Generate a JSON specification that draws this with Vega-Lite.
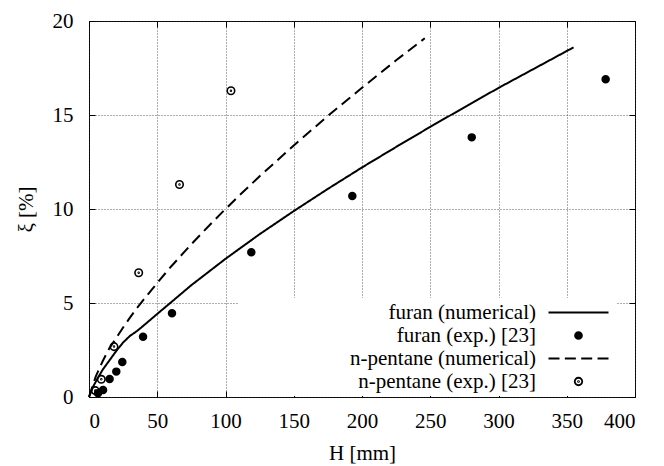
{
  "$schema": "https://vega.github.io/schema/vega-lite/v6.json",
  "width": 546,
  "height": 376,
  "autosize": {"type": "none"},
  "padding": {"left": 89, "top": 21, "right": 29, "bottom": 69},
  "background": "white",
  "config": {
    "font": "Liberation Serif",
    "view": {"stroke": "black", "strokeWidth": 1},
    "axis": {
      "domain": false,
      "labelFont": "Liberation Serif",
      "labelFontSize": 21,
      "labelColor": "black",
      "titleFont": "Liberation Serif",
      "titleFontSize": 21,
      "titleFontWeight": "normal",
      "titleColor": "black",
      "tickColor": "black",
      "tickSize": -6,
      "tickWidth": 1,
      "gridColor": "#333333",
      "gridDash": [1, 2],
      "gridWidth": 0.8,
      "gridOpacity": 1
    },
    "legend": {
      "labelFont": "Liberation Serif",
      "labelFontSize": 21,
      "labelColor": "black"
    }
  },
  "data": {
    "values": [
      {"series": "furan (numerical)", "H": 0, "xi": 0},
      {"series": "furan (numerical)", "H": 3, "xi": 0.55},
      {"series": "furan (numerical)", "H": 6, "xi": 0.95},
      {"series": "furan (numerical)", "H": 10, "xi": 1.45},
      {"series": "furan (numerical)", "H": 15, "xi": 1.95},
      {"series": "furan (numerical)", "H": 20, "xi": 2.45},
      {"series": "furan (numerical)", "H": 25, "xi": 2.9},
      {"series": "furan (numerical)", "H": 30, "xi": 3.25},
      {"series": "furan (numerical)", "H": 35, "xi": 3.5},
      {"series": "furan (numerical)", "H": 40, "xi": 3.8},
      {"series": "furan (numerical)", "H": 50, "xi": 4.42},
      {"series": "furan (numerical)", "H": 60, "xi": 5.03},
      {"series": "furan (numerical)", "H": 75, "xi": 5.95},
      {"series": "furan (numerical)", "H": 100, "xi": 7.35},
      {"series": "furan (numerical)", "H": 125, "xi": 8.66},
      {"series": "furan (numerical)", "H": 150, "xi": 9.89},
      {"series": "furan (numerical)", "H": 175, "xi": 11.07},
      {"series": "furan (numerical)", "H": 200, "xi": 12.21},
      {"series": "furan (numerical)", "H": 225, "xi": 13.3},
      {"series": "furan (numerical)", "H": 250, "xi": 14.37},
      {"series": "furan (numerical)", "H": 275, "xi": 15.41},
      {"series": "furan (numerical)", "H": 300, "xi": 16.44},
      {"series": "furan (numerical)", "H": 325, "xi": 17.42},
      {"series": "furan (numerical)", "H": 355, "xi": 18.6},
      {"series": "n-pentane (numerical)", "H": 0, "xi": 0},
      {"series": "n-pentane (numerical)", "H": 2, "xi": 0.45},
      {"series": "n-pentane (numerical)", "H": 5, "xi": 1.1},
      {"series": "n-pentane (numerical)", "H": 10, "xi": 1.9},
      {"series": "n-pentane (numerical)", "H": 15, "xi": 2.6},
      {"series": "n-pentane (numerical)", "H": 20, "xi": 3.15},
      {"series": "n-pentane (numerical)", "H": 25, "xi": 3.7},
      {"series": "n-pentane (numerical)", "H": 30, "xi": 4.22},
      {"series": "n-pentane (numerical)", "H": 35, "xi": 4.72},
      {"series": "n-pentane (numerical)", "H": 40, "xi": 5.18},
      {"series": "n-pentane (numerical)", "H": 50, "xi": 6.07},
      {"series": "n-pentane (numerical)", "H": 60, "xi": 6.93},
      {"series": "n-pentane (numerical)", "H": 75, "xi": 8.13},
      {"series": "n-pentane (numerical)", "H": 90, "xi": 9.27},
      {"series": "n-pentane (numerical)", "H": 100, "xi": 10.0},
      {"series": "n-pentane (numerical)", "H": 110, "xi": 10.71},
      {"series": "n-pentane (numerical)", "H": 125, "xi": 11.74},
      {"series": "n-pentane (numerical)", "H": 150, "xi": 13.38},
      {"series": "n-pentane (numerical)", "H": 175, "xi": 14.95},
      {"series": "n-pentane (numerical)", "H": 200, "xi": 16.45},
      {"series": "n-pentane (numerical)", "H": 225, "xi": 17.91},
      {"series": "n-pentane (numerical)", "H": 246, "xi": 19.08},
      {"series": "furan (exp.) [23]", "H": 6.6, "xi": 0.2},
      {"series": "furan (exp.) [23]", "H": 10.3, "xi": 0.37},
      {"series": "furan (exp.) [23]", "H": 15.1, "xi": 0.96},
      {"series": "furan (exp.) [23]", "H": 20, "xi": 1.35},
      {"series": "furan (exp.) [23]", "H": 24.4, "xi": 1.86},
      {"series": "furan (exp.) [23]", "H": 39.6, "xi": 3.21},
      {"series": "furan (exp.) [23]", "H": 60.8, "xi": 4.45},
      {"series": "furan (exp.) [23]", "H": 118.9, "xi": 7.7},
      {"series": "furan (exp.) [23]", "H": 192.9, "xi": 10.69},
      {"series": "furan (exp.) [23]", "H": 280.4, "xi": 13.81},
      {"series": "furan (exp.) [23]", "H": 378.5, "xi": 16.9},
      {"series": "n-pentane (exp.) [23]", "H": 4.6, "xi": 0.34},
      {"series": "n-pentane (exp.) [23]", "H": 9.0, "xi": 0.94},
      {"series": "n-pentane (exp.) [23]", "H": 18.3, "xi": 2.68},
      {"series": "n-pentane (exp.) [23]", "H": 36.4, "xi": 6.61},
      {"series": "n-pentane (exp.) [23]", "H": 66.3, "xi": 11.3},
      {"series": "n-pentane (exp.) [23]", "H": 104, "xi": 16.29}
    ]
  },
  "resolve": {"axis": {"x": "independent", "y": "independent"}},
  "layer": [
    {
      "transform": [{"filter": {"field": "series", "oneOf": ["furan (numerical)", "n-pentane (numerical)"]}}],
      "mark": {"type": "line", "color": "black", "strokeWidth": 2},
      "encoding": {
        "x": {"field": "H", "type": "quantitative", "scale": {"domain": [0, 400], "nice": false},
          "axis": {"orient": "bottom", "values": [0, 50, 100, 150, 200, 250, 300, 350, 400], "title": "H [mm]", "labelPadding": 19, "titlePadding": 11, "grid": true}},
        "y": {"field": "xi", "type": "quantitative", "scale": {"domain": [0, 20], "nice": false},
          "axis": {"orient": "left", "values": [0, 5, 10, 15, 20], "title": "ξ [%]", "labelPadding": 22, "titlePadding": 16, "grid": true}},
        "strokeDash": {"field": "series", "type": "nominal",
          "scale": {"domain": ["furan (numerical)", "n-pentane (numerical)"], "range": [[1, 0], [11, 6]]},
          "legend": null}
      }
    },
    {
      "transform": [{"filter": {"field": "series", "oneOf": ["furan (exp.) [23]", "n-pentane (exp.) [23]"]}}],
      "mark": {"type": "point", "filled": false, "stroke": "black", "fill": "transparent", "strokeWidth": 1.6, "size": 56, "opacity": 1},
      "encoding": {
        "x": {"field": "H", "type": "quantitative",
          "axis": {"orient": "top", "values": [0, 50, 100, 150, 200, 250, 300, 350, 400], "labels": false, "title": null, "grid": false}},
        "y": {"field": "xi", "type": "quantitative",
          "axis": {"orient": "right", "values": [0, 5, 10, 15, 20], "labels": false, "title": null, "grid": false}},
        "shape": {"field": "series", "type": "nominal",
          "scale": {
            "domain": ["furan (numerical)", "furan (exp.) [23]", "n-pentane (numerical)", "n-pentane (exp.) [23]"],
            "range": [
              "M -8.02 0 L 8.02 0",
              "M -0.92 0 A 0.92 0.92 0 1 1 0.92 0 A 0.92 0.92 0 1 1 -0.92 0 Z M -0.55 0 A 0.55 0.55 0 1 1 0.55 0 A 0.55 0.55 0 1 1 -0.55 0 Z M -0.2 0 A 0.2 0.2 0 1 1 0.2 0 A 0.2 0.2 0 1 1 -0.2 0 Z M -0.03 0 A 0.03 0.03 0 1 1 0.03 0 A 0.03 0.03 0 1 1 -0.03 0 Z",
              "M -8.02 0 L -5.08 0 M -3.65 0 L -0.71 0 M 0.72 0 L 3.66 0 M 5.09 0 L 8.02 0",
              "M -1 0 A 1 1 0 1 1 1 0 A 1 1 0 1 1 -1 0 Z M -0.12 0 A 0.12 0.12 0 1 1 0.12 0 A 0.12 0.12 0 1 1 -0.12 0 Z"
            ]
          },
          "legend": {
            "title": null,
            "orient": "none",
            "legendX": 150,
            "legendY": 277,
            "fillColor": "white",
            "padding": 4,
            "rowPadding": 1,
            "symbolSize": 56,
            "symbolStrokeColor": "black",
            "symbolFillColor": "transparent",
            "symbolStrokeWidth": 1.8,
            "symbolOffset": 325,
            "labelAlign": "right",
            "labelOffset": -53,
            "labelLimit": 0
          }
        }
      }
    }
  ]
}
